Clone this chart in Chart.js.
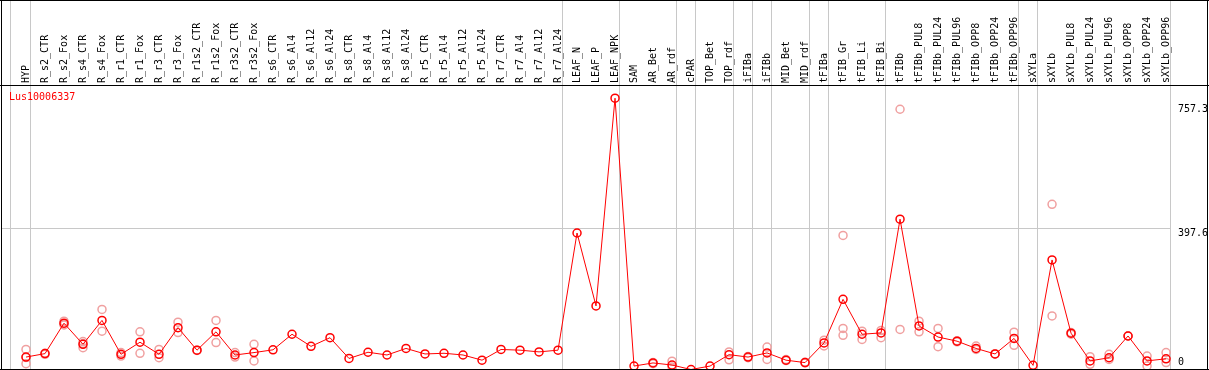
<!DOCTYPE html>
<html>
<head>
<meta charset="utf-8">
<script src="https://cdn.jsdelivr.net/npm/chart.js@4"></script>
<style>
  html, body { margin: 0; padding: 0; background: #fff; }
  canvas { display: block; }
</style>
</head>
<body>
<canvas id="chart" width="1209" height="370"></canvas>
<script>
const geneName = 'Lus10006337';

const categories = [
    'HYP', 'R_s2_CTR', 'R_s2_Fox', 'R_s4_CTR', 'R_s4_Fox', 'R_r1_CTR', 'R_r1_Fox',
    'R_r3_CTR', 'R_r3_Fox', 'R_r1s2_CTR', 'R_r1s2_Fox', 'R_r3s2_CTR', 'R_r3s2_Fox',
    'R_s6_CTR', 'R_s6_Al4', 'R_s6_Al12', 'R_s6_Al24', 'R_s8_CTR', 'R_s8_Al4',
    'R_s8_Al12', 'R_s8_Al24', 'R_r5_CTR', 'R_r5_Al4', 'R_r5_Al12', 'R_r5_Al24',
    'R_r7_CTR', 'R_r7_Al4', 'R_r7_Al12', 'R_r7_Al24', 'LEAF_N', 'LEAF_P', 'LEAF_NPK',
    'SAM', 'AR_Bet', 'AR_rdf', 'cPAR', 'TOP_Bet', 'TOP_rdf', 'iFIBa', 'iFIBb',
    'MID_Bet', 'MID_rdf', 'tFIBa', 'tFIB_Gr', 'tFIB_Li', 'tFIB_Bi', 'tFIBb',
    'tFIBb_PUL8', 'tFIBb_PUL24', 'tFIBb_PUL96', 'tFIBb_OPP8', 'tFIBb_OPP24', 'tFIBb_OPP96',
    'sXYLa', 'sXYLb', 'sXYLb_PUL8', 'sXYLb_PUL24', 'sXYLb_PUL96', 'sXYLb_OPP8',
    'sXYLb_OPP24', 'sXYLb_OPP96'
];

// mean expression per sample
const meanValues = [
    25, 35, 123, 62, 131, 33, 68, 33, 110, 45, 98, 31, 38,
    46, 91, 56, 81, 21, 39, 31, 50, 34, 36, 31, 16, 47, 45, 40, 45,
    384, 173, 774,
    -1, 8, 2, -11, -1, 32, 25, 37, 16, 9,
    66, 192, 91, 95, 424, 115, 83, 71, 50, 34, 79,
    1, 306, 94, 14, 23, 86, 14, 20
];

// single replicates (faint circles), one list per sample
const replicateValues = [
    [47, 24, 6], [33, 36], [129, 121, 118], [70, 52, 64], [163, 100], [38, 28], [98, 36],
    [47, 23], [126, 96], [44, 45], [131, 67], [38, 25], [62, 14],
    [], [], [], [], [], [], [], [], [], [], [], [], [], [], [], [],
    [], [], [],
    [], [9, 6], [13, -4], [], [], [40, 17], [27, 23], [54, 18], [18, 15], [10, 8],
    [74, 57], [377, 108, 88], [100, 76], [102, 81], [742, 105], [129, 98], [108, 55], [72, 69], [57, 47], [34, 34], [97, 59],
    [], [467, 144], [96, 91], [26, 4], [33, 18], [86, 86], [28, -1], [38, 9]
];

// index of the last sample in each group (grey separators)
const groupEnds = [-1, 0, 28, 31, 34, 35, 37, 38, 39, 41, 42, 45, 52, 53, 60];
const markedValues = [757.3, 397.6];
const tickLabels = ['757.3', '397.6', '0'];

const FONT = '10px "DejaVu Sans Mono", monospace';

const meanPoints = meanValues.map((v, i) => ({x: i, y: v}));
const replicatePoints = [];
replicateValues.forEach((list, i) => {
    list.forEach(v => replicatePoints.push({x: i, y: v}));
});

const framePlugin = {
    id: 'frame',
    beforeDatasetsDraw(chart) {
        const ctx = chart.ctx;
        const xs = chart.scales.x;
        const ys = chart.scales.y;
        ctx.save();
        ctx.fillStyle = '#c8c8c8';
        for (const g of groupEnds) {
            const off = g < 0 ? 0.16 : 0.23;
            const px = Math.round(xs.getPixelForValue(g + off));
            ctx.fillRect(px, 0, 1, chart.height);
        }
        const lastX = Math.round(xs.getPixelForValue(groupEnds[groupEnds.length - 1] + 0.23));
        const py = Math.round(ys.getPixelForValue(markedValues[1]));
        ctx.fillRect(2, py, lastX - 2, 1);
        ctx.restore();
    },
    afterDraw(chart) {
        const ctx = chart.ctx;
        const xs = chart.scales.x;
        const ys = chart.scales.y;
        const area = chart.chartArea;
        ctx.save();

        // frame
        ctx.fillStyle = '#000';
        ctx.fillRect(1, 0, 1, chart.height);
        ctx.fillRect(chart.width - 2, 0, 1, chart.height);
        ctx.fillRect(0, 0, chart.width, 1);
        ctx.fillRect(0, area.top - 1, chart.width, 1);
        ctx.fillRect(0, chart.height - 1, chart.width, 1);

        // rotated sample names
        ctx.font = FONT;
        ctx.fillStyle = '#000';
        ctx.textAlign = 'left';
        ctx.textBaseline = 'middle';
        categories.forEach((name, i) => {
            ctx.save();
            ctx.translate(xs.getPixelForValue(i), area.top - 3);
            ctx.rotate(-Math.PI / 2);
            ctx.fillText(name, 0, 0);
            ctx.restore();
        });

        // gene name
        ctx.fillStyle = '#ff0000';
        ctx.fillText(geneName, 9, area.top + 11);

        // value labels on the right
        ctx.fillStyle = '#000';
        ctx.textBaseline = 'top';
        const tickVals = [markedValues[0], markedValues[1], 0];
        tickVals.forEach((v, k) => {
            const y = Math.min(ys.getPixelForValue(v), area.bottom - 13);
            ctx.fillText(tickLabels[k], 1178, y);
        });
        ctx.restore();
    }
};

new Chart(document.getElementById('chart'), {
    type: 'line',
    data: {
        datasets: [{
            label: 'mean',
            data: meanPoints,
            borderColor: '#ff0000',
            borderWidth: 1,
            pointRadius: 4,
            pointBorderWidth: 1.5,
            pointBorderColor: '#ff0000',
            pointBackgroundColor: 'rgba(0,0,0,0)',
            tension: 0
        }, {
            label: 'replicates',
            data: replicatePoints,
            showLine: false,
            pointRadius: 4,
            pointBorderWidth: 1.5,
            pointBorderColor: 'rgb(240,160,160)',
            pointBackgroundColor: 'rgba(0,0,0,0)'
        }]
    },
    options: {
        responsive: false,
        animation: false,
        devicePixelRatio: 1,
        layout: {autoPadding: false, padding: {top: 86, left: 0, right: 0, bottom: 0}},
        plugins: {legend: {display: false}, tooltip: {enabled: false}},
        scales: {
            x: {type: 'linear', display: false, min: -1.368, max: 62.26},
            y: {type: 'linear', display: false, min: -12.4, max: 809.3}
        }
    },
    plugins: [framePlugin]
});
</script>
</body>
</html>
